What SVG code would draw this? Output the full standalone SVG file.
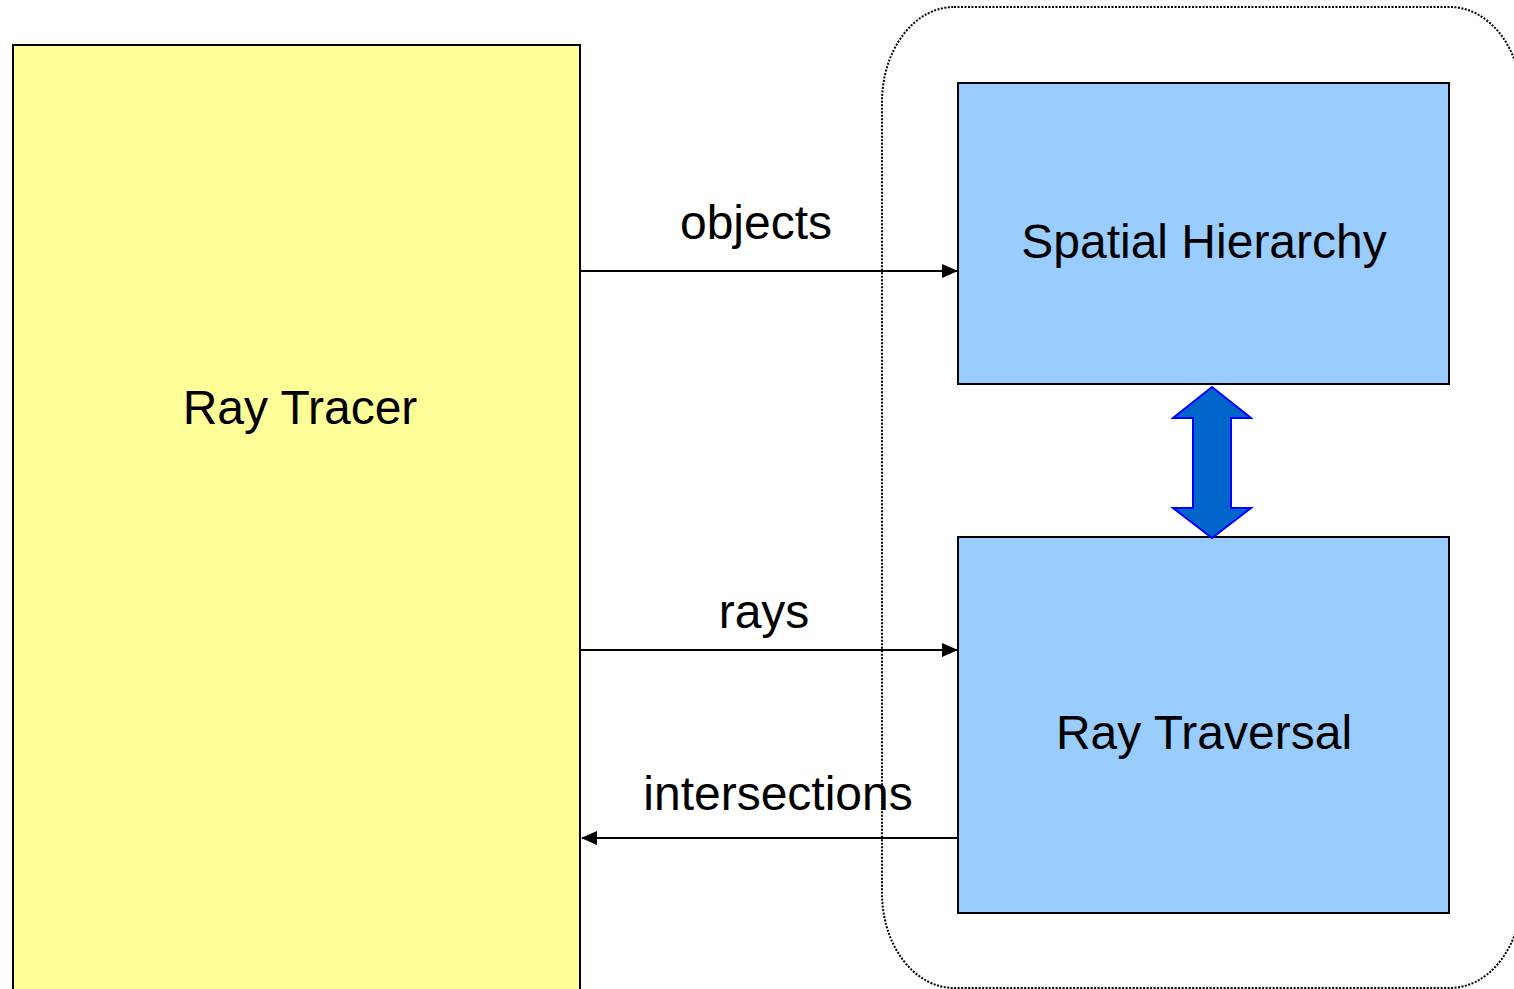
<svg xmlns="http://www.w3.org/2000/svg" width="1514" height="989" viewBox="0 0 1514 989">
  <defs>
    <marker id="head" markerWidth="16" markerHeight="14" refX="15" refY="7" orient="auto" markerUnits="userSpaceOnUse">
      <path d="M0,0 L16,7 L0,14 Z" fill="#000"/>
    </marker>
    <style>
      text { font-family: "Liberation Sans", Arial, sans-serif; font-size: 48px; fill: #000; text-anchor: middle; }
      .box { stroke: #000; stroke-width: 2; }
      .link { stroke: #000; stroke-width: 2; fill: none; }
    </style>
  </defs>
  <rect width="1514" height="989" fill="#fff"/>

  <!-- grouping boundary around the acceleration structure -->
  <g id="container">
    <rect x="882" y="7" width="640" height="981" rx="72" ry="95" fill="none" stroke="#000" stroke-width="2" stroke-dasharray="2 1.5"/>
  </g>

  <g id="ray-tracer">
    <rect class="box" x="13" y="45" width="567" height="960" fill="#FFFF99"/>
    <text x="300" y="424">Ray Tracer</text>
  </g>

  <g id="spatial-hierarchy">
    <rect class="box" x="958" y="83" width="491" height="301" fill="#99CCFF"/>
    <text x="1204" y="258">Spatial Hierarchy</text>
  </g>

  <g id="ray-traversal">
    <rect class="box" x="958" y="537" width="491" height="376" fill="#99CCFF"/>
    <text x="1204" y="749">Ray Traversal</text>
  </g>

  <g id="connectors">
    <line class="link" x1="581" y1="271" x2="957" y2="271" marker-end="url(#head)"/>
    <text x="756" y="239">objects</text>
    <line class="link" x1="581" y1="650" x2="957" y2="650" marker-end="url(#head)"/>
    <text x="764" y="628">rays</text>
    <line class="link" x1="957" y1="838" x2="582" y2="838" marker-end="url(#head)"/>
    <text x="778" y="810">intersections</text>
    <path d="M1212,387 L1251,418 L1231,418 L1231,508 L1251,508 L1212,538 L1173,508 L1193,508 L1193,418 L1173,418 Z" fill="#0066CC" stroke="#0000FF" stroke-width="2" stroke-linejoin="miter"/>
  </g>
</svg>
